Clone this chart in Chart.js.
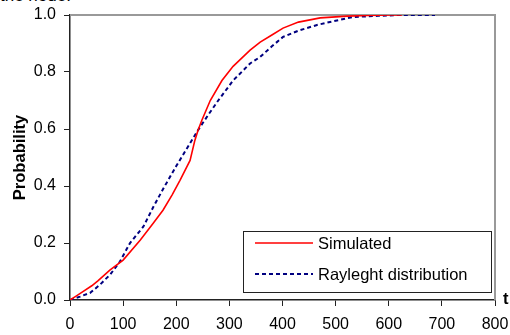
<!DOCTYPE html>
<html>
<head>
<meta charset="utf-8">
<script src="https://cdn.jsdelivr.net/npm/chart.js@4"></script>
<style>
    body { margin: 0; background: #fff; overflow: hidden; }
    #wrap { position: relative; width: 510px; height: 335px; }
    #cut { position: absolute; left: 0px; top: -14px; font: 17px "Liberation Sans", Arial, sans-serif; color: #000; }
    canvas { position: absolute; left: 0; top: 0; }
</style>
</head>
<body>
<div id="wrap">
    <div id="cut">the node:</div>
    <canvas id="cdfChart" width="510" height="335"></canvas>
</div>
<script>
// Simulated CDF
const simT = [0, 10, 25, 41, 53, 75, 100, 132, 157, 175, 192, 207, 226, 235, 241, 248, 264, 286, 307, 339, 358, 380, 401, 430, 471, 522, 560, 603, 625];
const simP = [0, 0.012, 0.03, 0.05, 0.068, 0.105, 0.14, 0.21, 0.27, 0.315, 0.368, 0.42, 0.49, 0.56, 0.596, 0.63, 0.70, 0.77, 0.82, 0.877, 0.905, 0.93, 0.954, 0.975, 0.99, 0.996, 0.998, 1.0, 1.0];

// Rayleigh distribution CDF
const rayT = [0, 19, 38, 56, 76, 94, 113, 138, 157, 176, 200, 222, 241, 260, 279, 307, 339, 358, 380, 401, 430, 465, 500, 533, 580, 621, 687];
const rayP = [0, 0.012, 0.025, 0.053, 0.09, 0.135, 0.2, 0.257, 0.327, 0.392, 0.47, 0.538, 0.596, 0.649, 0.70, 0.77, 0.83, 0.853, 0.89, 0.923, 0.945, 0.965, 0.98, 0.993, 0.997, 1.0, 1.0];

const seriesNames = ['Simulated', 'Rayleght distribution'];
const xTicks = [0, 100, 200, 300, 400, 500, 600, 700, 800];
const yTicks = [0, 0.2, 0.4, 0.6, 0.8, 1.0];

const FONT = '"Liberation Sans", Arial, sans-serif';

function toPoints(xs, ys) {
    return xs.map((x, i) => ({ x: x, y: ys[i] }));
}

// Frame, axis titles and the boxed legend
const decorPlugin = {
    id: 'decor',
    beforeDatasetsDraw(chart) {
        const ctx = chart.ctx;
        const a = chart.chartArea;
        ctx.save();
        ctx.strokeStyle = '#999';
        ctx.lineWidth = 2;
        ctx.beginPath();
        ctx.moveTo(a.left, a.top);
        ctx.lineTo(a.right, a.top);
        ctx.lineTo(a.right, a.bottom);
        ctx.stroke();
        ctx.restore();
    },
    afterDraw(chart) {
        const ctx = chart.ctx;
        const a = chart.chartArea;
        ctx.save();

        // y title
        ctx.fillStyle = '#000';
        ctx.font = 'bold 16.5px ' + FONT;
        ctx.textAlign = 'center';
        ctx.textBaseline = 'middle';
        ctx.translate(20, (a.top + a.bottom) / 2);
        ctx.rotate(-Math.PI / 2);
        ctx.fillText('Probability', 0, 0);
        ctx.setTransform(1, 0, 0, 1, 0, 0);

        // x title
        ctx.textAlign = 'left';
        ctx.fillText('t', a.right + 8, a.bottom - 1);

        // legend box
        const bx = 243, by = 231, bw = 248, bh = 61;
        ctx.fillStyle = '#fff';
        ctx.fillRect(bx, by, bw, bh);
        ctx.strokeStyle = '#222';
        ctx.lineWidth = 1;
        ctx.strokeRect(bx + 0.5, by + 0.5, bw, bh);

        const rows = [243, 274];
        chart.data.datasets.forEach((ds, i) => {
            ctx.strokeStyle = ds.borderColor;
            ctx.lineWidth = ds.borderWidth;
            ctx.setLineDash(ds.borderDash || []);
            ctx.beginPath();
            ctx.moveTo(255, rows[i]);
            ctx.lineTo(313, rows[i]);
            ctx.stroke();
            ctx.setLineDash([]);
            ctx.fillStyle = '#000';
            ctx.font = '16.5px ' + FONT;
            ctx.textAlign = 'left';
            ctx.textBaseline = 'middle';
            ctx.fillText(seriesNames[i], 318, rows[i] + 1);
        });
        ctx.restore();
    }
};

const ctx = document.getElementById('cdfChart').getContext('2d');
new Chart(ctx, {
    type: 'line',
    data: {
        datasets: [
            {
                label: seriesNames[0],
                data: toPoints(simT, simP),
                borderColor: '#ff0000',
                borderWidth: 1.6,
                pointRadius: 0,
                tension: 0,
                fill: false
            },
            {
                label: seriesNames[1],
                data: toPoints(rayT, rayP),
                borderColor: '#000080',
                borderWidth: 2,
                borderDash: [4, 3],
                pointRadius: 0,
                tension: 0,
                fill: false
            }
        ]
    },
    options: {
        responsive: false,
        animation: false,
        layout: { padding: { top: 15, right: 15, left: 0, bottom: 0 } },
        plugins: {
            legend: { display: false },
            tooltip: { enabled: false }
        },
        scales: {
            x: {
                type: 'linear',
                min: 0,
                max: 800,
                afterBuildTicks: s => { s.ticks = xTicks.map(v => ({ value: v })); },
                afterFit: s => { s.height = 35; s.paddingLeft = 0; s.paddingRight = 0; },
                grid: { drawOnChartArea: false, drawTicks: true, tickLength: 6, tickColor: '#222', tickWidth: 1 },
                border: { color: '#222', width: 1.5 },
                ticks: {
                    color: '#000',
                    font: { family: FONT, size: 16 },
                    padding: 9,
                    maxRotation: 0,
                    callback: v => String(v)
                }
            },
            y: {
                min: 0,
                max: 1,
                afterBuildTicks: s => { s.ticks = yTicks.map(v => ({ value: v })); },
                afterFit: s => { s.width = 70; s.paddingTop = 0; s.paddingBottom = 0; },
                grid: { drawOnChartArea: false, drawTicks: true, tickLength: 6, tickColor: '#222', tickWidth: 1 },
                border: { color: '#222', width: 1.5 },
                ticks: {
                    color: '#000',
                    font: { family: FONT, size: 16 },
                    padding: 8,
                    callback: v => v.toFixed(1)
                }
            }
        }
    },
    plugins: [decorPlugin]
});
</script>
</body>
</html>
